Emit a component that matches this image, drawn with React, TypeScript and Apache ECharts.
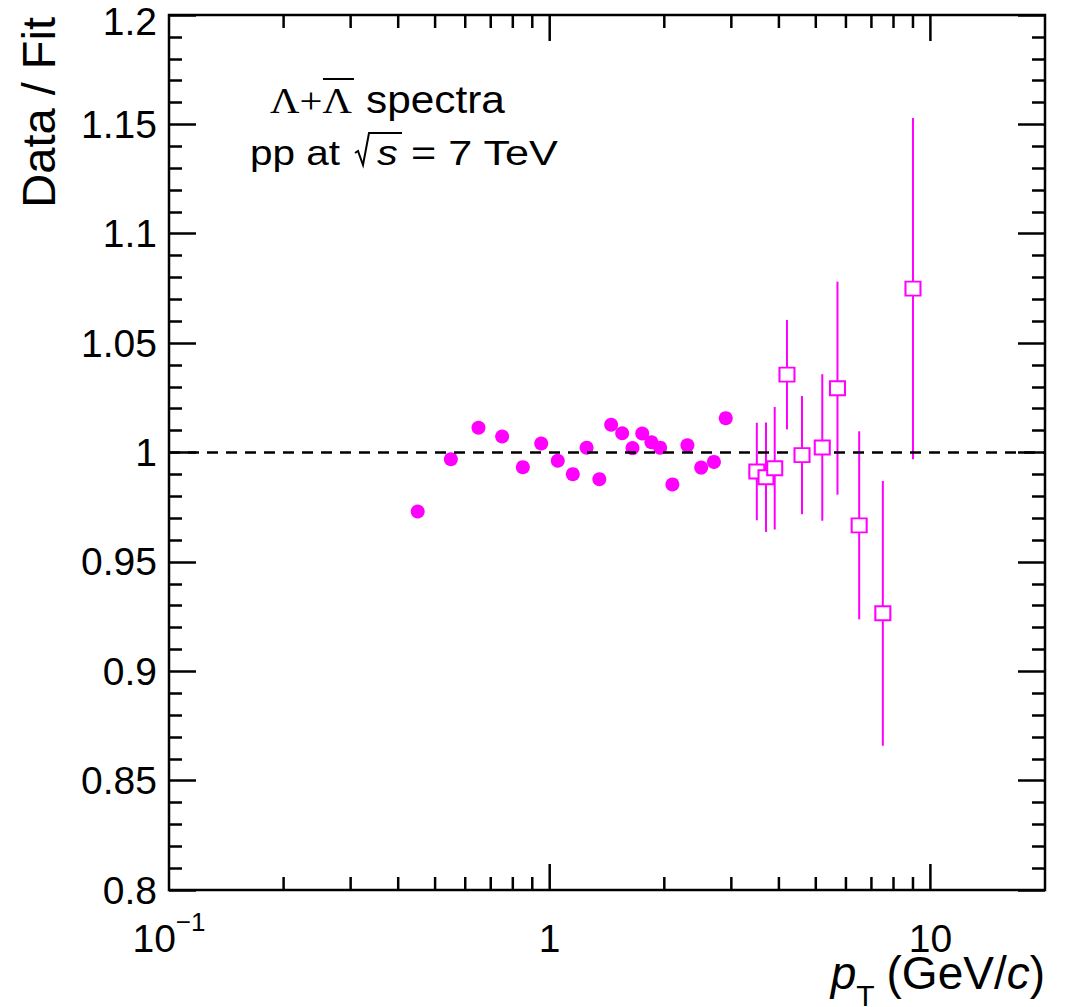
import React, { useEffect, useRef } from "react";
import * as echarts from "echarts";

// Filled circles (low pT)
const ptCircles = [0.45, 0.55, 0.65, 0.75, 0.85, 0.95, 1.05, 1.15, 1.25, 1.35, 1.45, 1.55, 1.65, 1.75, 1.85, 1.95, 2.1, 2.3, 2.5, 2.7, 2.9];
const ratioCircles = [0.973, 0.9969, 1.0113, 1.0073, 0.9933, 1.0041, 0.9962, 0.9901, 1.0022, 0.9878, 1.0127, 1.0088, 1.002, 1.0087, 1.0047, 1.0022, 0.9854, 1.0033, 0.9931, 0.9957, 1.0157];

// Open squares (high pT) with errors
const ptSquares = [3.5, 3.7, 3.9, 4.2, 4.6, 5.2, 5.7, 6.5, 7.5, 9.0];
const ratioSquares = [0.9913, 0.9887, 0.9928, 1.0356, 0.9988, 1.0023, 1.0294, 0.9667, 0.9265, 1.0749];
const errSquares = [0.0223, 0.025, 0.028, 0.025, 0.027, 0.0335, 0.0487, 0.043, 0.0605, 0.078];

// Axis ticks
const xMajorTicks = [1, 10];
const xMinorTicks = [0.2, 0.3, 0.4, 0.5, 0.6, 0.7, 0.8, 0.9, 2, 3, 4, 5, 6, 7, 8, 9];
const xMin = 0.1;
const xMax = 20;
const yMin = 0.8;
const yMax = 1.2;
const yStep = 0.05;

const FONT = '"Liberation Sans", Arial, Helvetica, sans-serif';
const SERIF = '"Liberation Serif", "Times New Roman", serif';
const MAGENTA = "#ff00ff";

export default function App() {
  const ref = useRef<HTMLDivElement>(null);

  useEffect(() => {
    if (!ref.current) return;
    const chart = echarts.init(ref.current, undefined, { renderer: "svg" });

    const tickData = [
      ...xMajorTicks.map((v) => [v, 1, 26]),
      ...xMinorTicks.map((v) => [v, 1, 13]),
    ];

    const yAxisCommon = {
      type: "value",
      min: yMin,
      max: yMax,
      interval: yStep,
      axisLine: { show: false },
      splitLine: { show: false },
      axisTick: { show: true, inside: true, length: 27, lineStyle: { color: "#000", width: 2.5 } },
      minorTick: { show: true, splitNumber: 5, length: 13, lineStyle: { color: "#000", width: 2.5 } },
      minorSplitLine: { show: false },
    };

    const option: any = {
      animation: false,
      backgroundColor: "#fff",
      grid: {
        left: 169,
        top: 15,
        right: 20,
        bottom: 117,
        show: true,
        borderColor: "#000",
        borderWidth: 2.5,
        backgroundColor: "transparent",
      },
      xAxis: {
        type: "log",
        logBase: 10,
        min: xMin,
        max: xMax,
        axisLine: { show: false },
        axisTick: { show: false },
        minorTick: { show: false },
        splitLine: { show: false },
        axisLabel: {
          margin: 19,
          showMaxLabel: false,
          color: "#000",
          formatter: (v: number) => {
            const e = Math.log10(v);
            const r = Math.round(e);
            if (Math.abs(e - r) > 0.01) return "";
            if (r === -1) return "{b|10}{sup|−1}";
            if (r === 0) return "{b|1}";
            if (r === 1) return "{b|10}";
            return "";
          },
          rich: {
            b: { fontSize: 39, fontFamily: FONT, color: "#000", padding: [10, 0, 0, 0], verticalAlign: "bottom" },
            sup: { fontSize: 26, fontFamily: FONT, color: "#000", verticalAlign: "top" },
          },
        },
      },
      yAxis: [
        {
          ...yAxisCommon,
          position: "left",
          axisLabel: {
            margin: 12,
            fontSize: 39,
            fontFamily: FONT,
            color: "#000",
            formatter: (v: number) => {
              const s = String(Math.round(v * 100) / 100);
              return Math.abs(v - yMax) < 1e-6 ? "{t|" + s + "}" : s;
            },
            rich: {
              t: { fontSize: 39, fontFamily: FONT, color: "#000", padding: [12, 0, 0, 0] },
            },
          },
        },
        {
          ...yAxisCommon,
          position: "right",
          axisLabel: { show: false },
        },
      ],
      series: [
        {
          type: "scatter",
          name: "low pT",
          silent: true,
          symbol: "circle",
          symbolSize: 14,
          itemStyle: { color: MAGENTA, opacity: 1 },
          data: ptCircles.map((x, i) => [x, ratioCircles[i]]),
          z: 4,
          markLine: {
            silent: true,
            symbol: "none",
            label: { show: false },
            lineStyle: { color: "#000", type: [11, 8], width: 2.5 },
            data: [{ yAxis: 1 }],
          },
        },
        {
          type: "custom",
          name: "errors",
          silent: true,
          z: 3,
          encode: { x: 0, y: 1 },
          data: ptSquares.map((x, i) => [x, ratioSquares[i], errSquares[i]]),
          renderItem: (params: any, api: any) => {
            const x = api.value(0);
            const y = api.value(1);
            const e = api.value(2);
            const top = api.coord([x, y + e]);
            const bot = api.coord([x, y - e]);
            return {
              type: "line",
              shape: { x1: top[0], y1: top[1], x2: bot[0], y2: bot[1] },
              style: { stroke: MAGENTA, lineWidth: 2 },
            };
          },
        },
        {
          type: "scatter",
          name: "high pT",
          silent: true,
          symbol: "rect",
          symbolSize: [15, 14],
          itemStyle: { color: "#fff", borderColor: MAGENTA, borderWidth: 2, opacity: 1 },
          data: ptSquares.map((x, i) => [x, ratioSquares[i]]),
          z: 5,
        },
        {
          type: "custom",
          name: "xticks",
          silent: true,
          z: 6,
          encode: { x: 0, y: 1 },
          data: tickData,
          renderItem: (params: any, api: any) => {
            const v = api.value(0);
            const len = api.value(2);
            const x = api.coord([v, 1])[0];
            const cs = params.coordSys;
            const yb = cs.y + cs.height;
            const yt = cs.y;
            return {
              type: "group",
              children: [
                { type: "line", shape: { x1: x, y1: yb, x2: x, y2: yb - len }, style: { stroke: "#000", lineWidth: 2.5 } },
                { type: "line", shape: { x1: x, y1: yt, x2: x, y2: yt + len }, style: { stroke: "#000", lineWidth: 2.5 } },
              ],
            };
          },
        },
      ],
      graphic: [
        {
          type: "text",
          x: 38,
          y: 17,
          rotation: Math.PI / 2,
          style: {
            text: "Data / Fit",
            fontSize: 47,
            fontFamily: FONT,
            fill: "#000",
            align: "right",
            verticalAlign: "middle",
          },
        },
        {
          type: "text",
          x: 1045,
          y: 950,
          style: {
            text: "{i|p}{s|T}{n|(GeV/}{i|c}{m|)}",
            align: "right",
            verticalAlign: "top",
            fill: "#000",
            rich: {
              i: { fontSize: 46, fontFamily: FONT, fontStyle: "italic", verticalAlign: "top", fill: "#000" },
              s: { fontSize: 30, fontFamily: FONT, verticalAlign: "bottom", padding: [30, 0, 0, 0], fill: "#000" },
              n: { fontSize: 46, fontFamily: FONT, verticalAlign: "top", padding: [0, 0, 0, 12], fill: "#000" },
              m: { fontSize: 46, fontFamily: FONT, verticalAlign: "top", fill: "#000" },
            },
          },
        },
        // Line 1: Λ+Λ̄ spectra
        {
          type: "text",
          x: 270,
          y: 101,
          scaleX: 1.13,
          style: {
            text: "Λ+Λ",
            fontSize: 36,
            fontFamily: SERIF,
            fill: "#000",
            align: "left",
            verticalAlign: "middle",
          },
        },
        {
          type: "line",
          shape: { x1: 323, y1: 79, x2: 354, y2: 79 },
          style: { stroke: "#000", lineWidth: 2 },
        },
        {
          type: "text",
          x: 366,
          y: 100,
          scaleX: 1.115,
          style: {
            text: "spectra",
            fontSize: 38,
            fontFamily: FONT,
            fill: "#000",
            align: "left",
            verticalAlign: "middle",
          },
        },
        // Line 2: pp at √s = 7 TeV
        {
          type: "text",
          x: 250,
          y: 152,
          scaleX: 1.125,
          style: { text: "pp at", fontSize: 36, fontFamily: FONT, fill: "#000", align: "left", verticalAlign: "middle" },
        },
        {
          type: "polyline",
          shape: { points: [[355, 153], [358, 151], [363, 165], [369, 133], [402, 133]] },
          style: { stroke: "#000", lineWidth: 2, fill: "none" },
        },
        {
          type: "text",
          x: 377,
          y: 152,
          scaleX: 1.15,
          style: { text: "s", fontSize: 36, fontFamily: FONT, fontStyle: "italic", fill: "#000", align: "left", verticalAlign: "middle" },
        },
        {
          type: "text",
          x: 411,
          y: 152,
          scaleX: 1.2,
          style: { text: "= 7 TeV", fontSize: 36, fontFamily: FONT, fill: "#000", align: "left", verticalAlign: "middle" },
        },
      ],
    };

    chart.setOption(option);
    return () => chart.dispose();
  }, []);

  return (
    <div
      ref={ref}
      style={{ position: "fixed", left: 0, top: 0, width: 1065, height: 1007, background: "#fff" }}
    />
  );
}
